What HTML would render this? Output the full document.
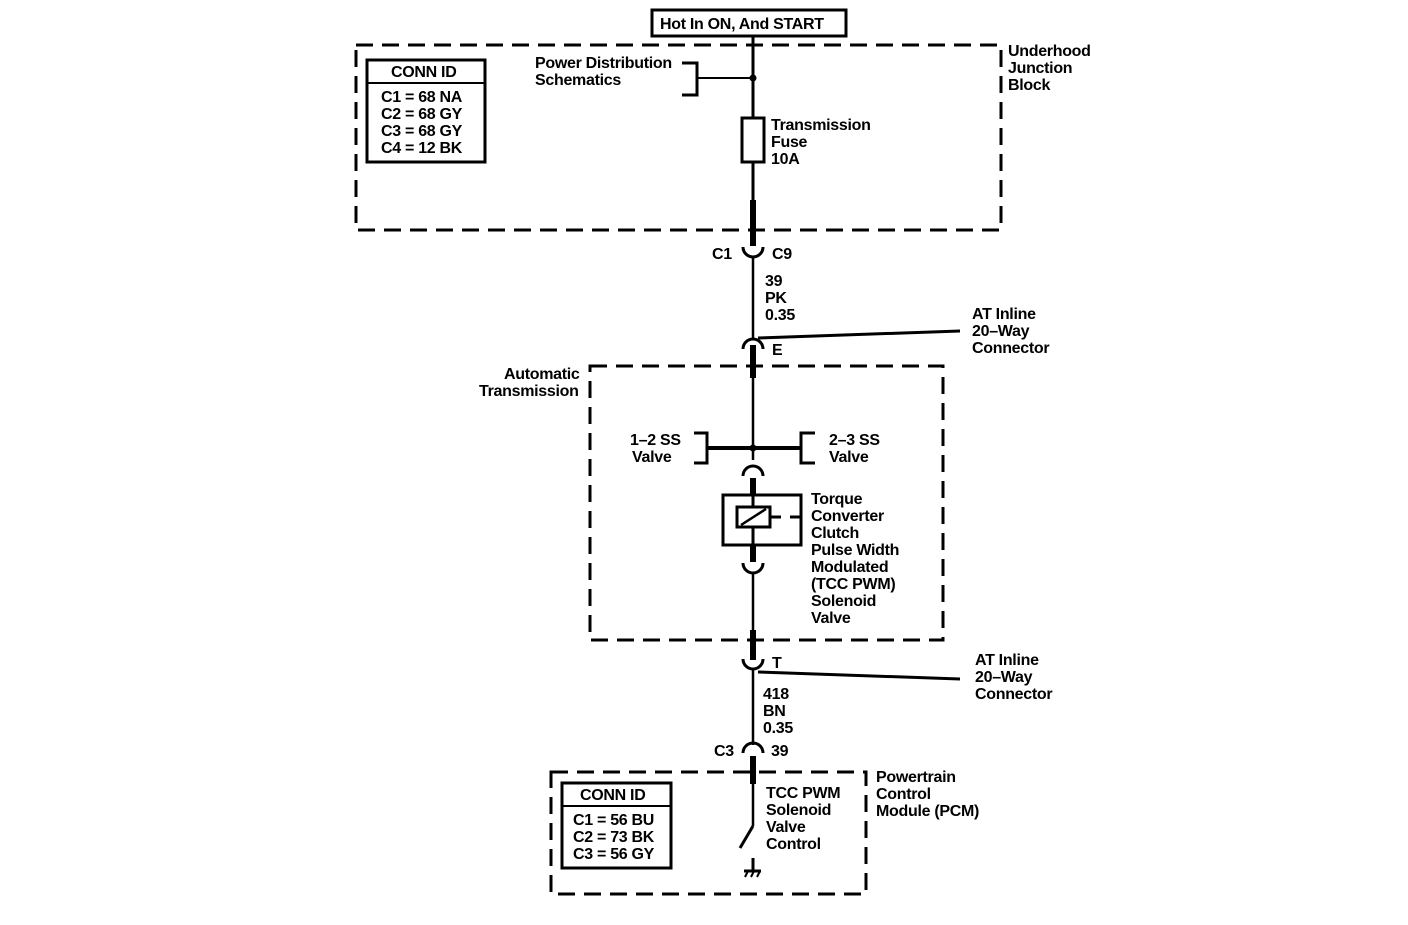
<!DOCTYPE html>
<html><head><style>
html,body{margin:0;padding:0;background:#fff;}
svg text{font-family:"Liberation Sans",Arial,sans-serif;font-size:16px;font-weight:bold;fill:#000;letter-spacing:-0.3px;}
</style></head><body>
<svg width="1408" height="920" viewBox="0 0 1408 920" xmlns="http://www.w3.org/2000/svg">
<g fill="none" stroke="#000">
<rect x="652" y="10" width="194" height="26" stroke-width="3"/>
<rect x="356" y="45" width="645" height="185" stroke-width="3" stroke-dasharray="17,9"/>
<rect x="590" y="366" width="353" height="274" stroke-width="3" stroke-dasharray="17,9"/>
<rect x="551" y="772" width="315" height="122" stroke-width="3" stroke-dasharray="17,9"/>
<rect x="367" y="60" width="118" height="102" stroke-width="3"/>
<line x1="367" y1="83" x2="485" y2="83" stroke-width="2"/>
<rect x="562" y="783" width="109" height="85" stroke-width="3"/>
<line x1="562" y1="806" x2="671" y2="806" stroke-width="2"/>
<line x1="753" y1="37" x2="753" y2="118" stroke-width="3"/>
<line x1="753" y1="162" x2="753" y2="200" stroke-width="3"/>
<line x1="753" y1="200" x2="753" y2="246" stroke-width="6"/>
<rect x="742" y="118" width="22" height="44" stroke-width="3"/>
<polyline points="682,63 697,63 697,95 682,95" stroke-width="3"/>
<line x1="697" y1="78" x2="753" y2="78" stroke-width="2"/>
<path d="M743,247 A10,10 0 0 0 763,247" stroke-width="3"/>
<line x1="753" y1="257" x2="753" y2="340" stroke-width="2.5"/>
<path d="M743,349 A10,10 0 0 1 763,349" stroke-width="3"/>
<line x1="758" y1="338" x2="960" y2="331" stroke-width="3"/>
<line x1="753" y1="345" x2="753" y2="378" stroke-width="6"/>
<line x1="753" y1="378" x2="753" y2="460" stroke-width="2.5"/>
<line x1="707" y1="448" x2="801" y2="448" stroke-width="4"/>
<polyline points="694,433 707,433 707,463 694,463" stroke-width="3"/>
<polyline points="815,433 801,433 801,463 815,463" stroke-width="3"/>
<path d="M743,476 A10,10 0 0 1 763,476" stroke-width="3"/>
<line x1="753" y1="478" x2="753" y2="496" stroke-width="6"/>
<rect x="723" y="495" width="78" height="50" stroke-width="3"/>
<line x1="753" y1="495" x2="753" y2="507" stroke-width="3"/>
<rect x="737" y="507" width="33" height="20" stroke-width="3"/>
<line x1="741" y1="525" x2="766" y2="509" stroke-width="2.5"/>
<line x1="753" y1="527" x2="753" y2="545" stroke-width="3"/>
<line x1="770" y1="517" x2="781" y2="517" stroke-width="3"/>
<line x1="790" y1="517" x2="801" y2="517" stroke-width="3"/>
<line x1="753" y1="545" x2="753" y2="562" stroke-width="6"/>
<path d="M743,563 A10,10 0 0 0 763,563" stroke-width="3"/>
<line x1="753" y1="573" x2="753" y2="630" stroke-width="2.5"/>
<line x1="753" y1="630" x2="753" y2="660" stroke-width="6"/>
<path d="M743,659 A10,10 0 0 0 763,659" stroke-width="3"/>
<line x1="758" y1="672" x2="960" y2="679" stroke-width="3"/>
<line x1="753" y1="669" x2="753" y2="745" stroke-width="2.5"/>
<path d="M743,753 A10,10 0 0 1 763,753" stroke-width="3"/>
<line x1="753" y1="756" x2="753" y2="784" stroke-width="6"/>
<line x1="753" y1="784" x2="753" y2="826" stroke-width="2.5"/>
<line x1="753" y1="826" x2="740" y2="848" stroke-width="3"/>
<line x1="753" y1="858" x2="753" y2="871" stroke-width="3"/>
<line x1="744" y1="871" x2="761" y2="871" stroke-width="3"/>
<line x1="745" y1="877" x2="748" y2="871" stroke-width="2"/>
<line x1="751" y1="877" x2="754" y2="871" stroke-width="2"/>
<line x1="757" y1="877" x2="760" y2="871" stroke-width="2"/>
</g>
<circle cx="753" cy="78" r="3.5"/>
<circle cx="753" cy="448" r="3.5"/>
<text x="660" y="29">Hot In ON, And START</text>
<text x="391" y="77">CONN ID</text>
<text x="381" y="102">C1 = 68 NA</text>
<text x="381" y="119">C2 = 68 GY</text>
<text x="381" y="136">C3 = 68 GY</text>
<text x="381" y="153">C4 = 12 BK</text>
<text x="535" y="68">Power Distribution</text>
<text x="535" y="85">Schematics</text>
<text x="771" y="130">Transmission</text>
<text x="771" y="147">Fuse</text>
<text x="771" y="164">10A</text>
<text x="1008" y="56">Underhood</text>
<text x="1008" y="73">Junction</text>
<text x="1008" y="90">Block</text>
<text x="712" y="259">C1</text>
<text x="772" y="259">C9</text>
<text x="765" y="286">39</text>
<text x="765" y="303">PK</text>
<text x="765" y="320">0.35</text>
<text x="972" y="319">AT Inline</text>
<text x="972" y="336">20–Way</text>
<text x="972" y="353">Connector</text>
<text x="772" y="355">E</text>
<text x="504" y="379">Automatic</text>
<text x="479" y="396">Transmission</text>
<text x="630" y="445">1–2 SS</text>
<text x="632" y="462">Valve</text>
<text x="829" y="445">2–3 SS</text>
<text x="829" y="462">Valve</text>
<text x="811" y="504">Torque</text>
<text x="811" y="521">Converter</text>
<text x="811" y="538">Clutch</text>
<text x="811" y="555">Pulse Width</text>
<text x="811" y="572">Modulated</text>
<text x="811" y="589">(TCC PWM)</text>
<text x="811" y="606">Solenoid</text>
<text x="811" y="623">Valve</text>
<text x="772" y="668">T</text>
<text x="975" y="665">AT Inline</text>
<text x="975" y="682">20–Way</text>
<text x="975" y="699">Connector</text>
<text x="763" y="699">418</text>
<text x="763" y="716">BN</text>
<text x="763" y="733">0.35</text>
<text x="714" y="756">C3</text>
<text x="771" y="756">39</text>
<text x="876" y="782">Powertrain</text>
<text x="876" y="799">Control</text>
<text x="876" y="816">Module (PCM)</text>
<text x="580" y="800">CONN ID</text>
<text x="573" y="825">C1 = 56 BU</text>
<text x="573" y="842">C2 = 73 BK</text>
<text x="573" y="859">C3 = 56 GY</text>
<text x="766" y="798">TCC PWM</text>
<text x="766" y="815">Solenoid</text>
<text x="766" y="832">Valve</text>
<text x="766" y="849">Control</text>
</svg>
</body></html>
